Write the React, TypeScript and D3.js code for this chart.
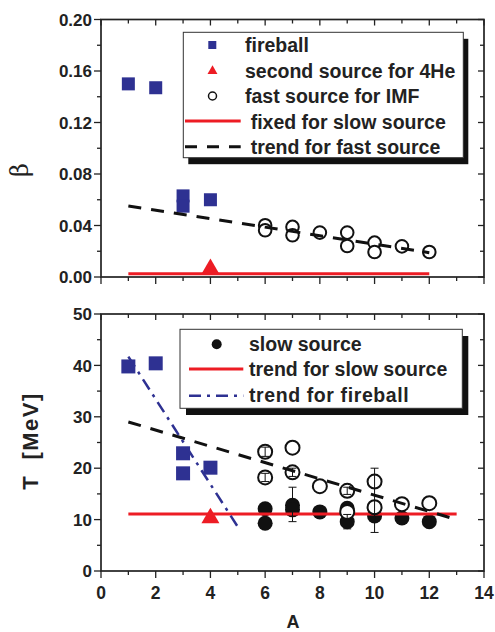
import React from "react";
import * as d3 from "d3";

// fireball (blue squares)
const fireballA = [1, 2, 3, 3, 4];
const fireballBeta = [0.150, 0.147, 0.063, 0.055, 0.060];
const fireballT = [39.8, 40.4, 22.9, 19.0, 20.1];

// second source for 4He (red triangle)
const heA = [4];
const heBeta = [0.0064];
const heT = [10.3];

// fast source for IMF (open circles)
const fastA = [6, 6, 7, 7, 8, 9, 9, 10, 10, 11, 12];
const fastBeta = [0.0402, 0.0363, 0.0389, 0.0324, 0.0345, 0.0345, 0.0241, 0.0267, 0.0194, 0.0238, 0.0194];
const fastT = [23.2, 18.2, 24.0, 19.2, 16.5, 15.6, 11.5, 17.4, 12.4, 13.0, 13.2];

// slow source (filled circles)
const slowA = [6, 6, 7, 7, 8, 9, 9, 10, 11, 12];
const slowT = [12.1, 9.3, 12.8, 11.9, 11.5, 12.2, 9.6, 10.7, 10.3, 9.6];

// error bars in T panel
const errA = [6, 6, 7, 7, 9, 9, 10];
const errLow = [22.3, 17.4, 18.4, 9.6, 14.9, 8.2, 7.5];
const errHigh = [24.1, 19.0, 20.0, 16.3, 16.3, 11.0, 20.0];

// trend lines
const slowBetaLineA = [1, 12];
const slowBetaLine = [0.0026, 0.0026];
const fastBetaLineA = [1, 12];
const fastBetaLine = [0.0552, 0.0189];
const slowTLineA = [1, 13];
const slowTLine = [11.1, 11.1];
const fastTLineA = [1, 13];
const fastTLine = [29.0, 10.0];
const fireTLineA = [1, 5];
const fireTLine = [41.7, 8.6];

const betaTicks = [0, 0.04, 0.08, 0.12, 0.16, 0.2];
const betaMinor = [0.02, 0.06, 0.1, 0.14, 0.18];
const tTicks = [0, 10, 20, 30, 40, 50];
const tMinor = [5, 15, 25, 35, 45];
const aTicks = [0, 2, 4, 6, 8, 10, 12, 14];
const aMinor = [1, 3, 5, 7, 9, 11, 13];

const FONT = "'Liberation Sans', Arial, Helvetica, sans-serif";
const BLUE = "#2e3192";
const RED = "#ed1c24";

const x = d3.scaleLinear().domain([0, 14]).range([101, 484]);
const yB = d3.scaleLinear().domain([0, 0.2]).range([277, 19.5]);
const yT = d3.scaleLinear().domain([0, 50]).range([571, 314]);

const line = (xs: number[], ys: number[], y: d3.ScaleLinear<number, number>) =>
  d3.line<number>().x((d) => x(d)).y((_, i) => y(ys[i]))(xs) as string;

const tri = (size: number) => d3.symbol().type(d3.symbolTriangle).size(size)() as string;

function Frame({ y, yTicks, yMinor, fmt, xLabels }: any) {
  const [y0, y1] = y.range();
  const x0 = x(0), x1 = x(14);
  return (
    <g>
      <rect x={x0} y={y1} width={x1 - x0} height={y0 - y1} fill="none" stroke="#222" strokeWidth={1.7} />
      {aTicks.map((t) => (
        <g key={"xa" + t}>
          <line x1={x(t)} x2={x(t)} y1={y0} y2={y0 + 7} stroke="#222" strokeWidth={1.3} />
          <line x1={x(t)} x2={x(t)} y1={y1} y2={y1 + 6} stroke="#222" strokeWidth={1.3} />
        </g>
      ))}
      {aMinor.map((t) => (
        <g key={"xm" + t}>
          <line x1={x(t)} x2={x(t)} y1={y0} y2={y0 + 4} stroke="#222" strokeWidth={1.3} />
          <line x1={x(t)} x2={x(t)} y1={y1} y2={y1 + 4} stroke="#222" strokeWidth={1.3} />
        </g>
      ))}
      {yTicks.map((t: number) => (
        <g key={"ya" + t}>
          <line x1={x0 - 7} x2={x0} y1={y(t)} y2={y(t)} stroke="#222" strokeWidth={1.3} />
          <line x1={x1 - 6} x2={x1} y1={y(t)} y2={y(t)} stroke="#222" strokeWidth={1.3} />
          <text x={x0 - 9} y={y(t)} dy="0.36em" textAnchor="end" fontFamily={FONT} fontWeight="bold" fontSize={17} fill="#222">
            {fmt(t)}
          </text>
        </g>
      ))}
      {yMinor.map((t: number) => (
        <g key={"ym" + t}>
          <line x1={x0 - 4} x2={x0} y1={y(t)} y2={y(t)} stroke="#222" strokeWidth={1.3} />
          <line x1={x1 - 4} x2={x1} y1={y(t)} y2={y(t)} stroke="#222" strokeWidth={1.3} />
        </g>
      ))}
      {xLabels &&
        aTicks.map((t) => (
          <text key={"xl" + t} x={x(t)} y={599} textAnchor="middle" fontFamily={FONT} fontWeight="bold" fontSize={17.5} fill="#222">
            {t}
          </text>
        ))}
    </g>
  );
}

export default function App() {
  const legendText = { fontFamily: FONT, fontWeight: "bold", fontSize: 19.5, fill: "#222" } as any;
  return (
    <svg width={495} height={632} style={{ position: "absolute", left: 0, top: 0, background: "#fff" }}>
      {/* ---------- top panel: beta ---------- */}
      {fireballA.map((a, i) => (
        <rect key={"fb" + i} x={x(a) - 6.5} y={yB(fireballBeta[i]) - 6.5} width={13} height={13} fill={BLUE} />
      ))}
      {fastA.map((a, i) => (
        <circle key={"fc" + i} cx={x(a)} cy={yB(fastBeta[i])} r={6.3} fill="#fff" stroke="#111" strokeWidth={2} />
      ))}
      <path d={line(fastBetaLineA, fastBetaLine, yB)} fill="none" stroke="#111" strokeWidth={3} strokeDasharray="13,10" />
      <path d={line(slowBetaLineA, slowBetaLine, yB)} fill="none" stroke={RED} strokeWidth={3} />
      {heA.map((a, i) => (
        <path key={"he" + i} d={tri(140)} transform={`translate(${x(a)},${yB(heBeta[i])})`} fill={RED} />
      ))}
      <Frame y={yB} yTicks={betaTicks} yMinor={betaMinor} fmt={(d: number) => d3.format(".2f")(d)} xLabels={false} />

      {/* top legend */}
      <rect x={188.3} y={38.8} width={280} height={125.4} fill="#111" />
      <rect x={183.3} y={32.3} width={280} height={125.4} fill="#fff" stroke="#333" strokeWidth={1} />
      <rect x={208.3} y={41} width={8} height={8} fill={BLUE} />
      <path d={tri(43)} transform="translate(212.5,71)" fill={RED} />
      <circle cx={212.5} cy={96} r={4} fill="#fff" stroke="#111" strokeWidth={1.5} />
      <line x1={185} x2={240.7} y1={121} y2={121} stroke={RED} strokeWidth={3} />
      <line x1={185} x2={240.7} y1={146.7} y2={146.7} stroke="#111" strokeWidth={3} strokeDasharray="12,10" />
      <text x={245} y={52} {...legendText}>fireball</text>
      <text x={245} y={77.5} {...legendText}>second source for 4He</text>
      <text x={245} y={103} {...legendText}>fast source for IMF</text>
      <text x={250.7} y={128.5} {...legendText}>fixed for slow source</text>
      <text x={250.7} y={153.5} {...legendText}>trend for fast source</text>

      {/* ---------- bottom panel: T ---------- */}
      {fireballA.map((a, i) => (
        <rect key={"tb" + i} x={x(a) - 7} y={yT(fireballT[i]) - 7} width={14} height={14} fill={BLUE} />
      ))}
      {slowA.map((a, i) => (
        <circle key={"sc" + i} cx={x(a)} cy={yT(slowT[i])} r={7.5} fill="#111" />
      ))}
      <path d={line(slowTLineA, slowTLine, yT)} fill="none" stroke={RED} strokeWidth={3} />
      {fastA.map((a, i) => (
        <circle key={"tc" + i} cx={x(a)} cy={yT(fastT[i])} r={7} fill="#fff" stroke="#111" strokeWidth={2} />
      ))}
      <path d={line(fastTLineA, fastTLine, yT)} fill="none" stroke="#111" strokeWidth={3} strokeDasharray="13,10" />
      <path d={line(fireTLineA, fireTLine, yT)} fill="none" stroke={BLUE} strokeWidth={2.5} strokeDasharray="12,6,3,6" />
      {errA.map((a, i) => (
        <g key={"eb" + i} stroke="#111" strokeWidth={1}>
          <line x1={x(a)} x2={x(a)} y1={yT(errLow[i])} y2={yT(errHigh[i])} />
          <line x1={x(a) - 4} x2={x(a) + 4} y1={yT(errLow[i])} y2={yT(errLow[i])} />
          <line x1={x(a) - 4} x2={x(a) + 4} y1={yT(errHigh[i])} y2={yT(errHigh[i])} />
        </g>
      ))}
      {heA.map((a, i) => (
        <path key={"het" + i} d={tri(140)} transform={`translate(${x(a)},${yT(heT[i])})`} fill={RED} />
      ))}
      <Frame y={yT} yTicks={tTicks} yMinor={tMinor} fmt={(d: number) => String(d)} xLabels={true} />

      {/* bottom legend */}
      <rect x={186} y={336} width={282.3} height={79} fill="#111" />
      <rect x={180} y={329.3} width={282.3} height={79} fill="#fff" stroke="#333" strokeWidth={1} />
      <circle cx={216.7} cy={344.3} r={5} fill="#111" />
      <line x1={189} x2={243.3} y1={369} y2={369} stroke={RED} strokeWidth={3} />
      <line x1={189} x2={243.3} y1={395.7} y2={395.7} stroke={BLUE} strokeWidth={2.5} strokeDasharray="12,6,3,6" />
      <text x={249} y={351} {...legendText}>slow source</text>
      <text x={249} y={375.5} {...legendText}>trend for slow source</text>
      <text x={249} y={402} {...legendText} letterSpacing={0.6}>trend for fireball</text>

      {/* axis titles */}
      <text x={293} y={628} textAnchor="middle" fontFamily={FONT} fontWeight="bold" fontSize={18} fill="#222">A</text>
      <text transform="translate(28,170) rotate(-90)" textAnchor="middle" fontFamily="'DejaVu Serif', 'Liberation Serif', serif" fontSize={24} fill="#222">β</text>
      <text transform="translate(38,441) rotate(-90)" textAnchor="middle" fontFamily={FONT} fontWeight="bold" fontSize={22} letterSpacing={1.5} fill="#222" style={{ whiteSpace: "pre" }}>T  [MeV]</text>
    </svg>
  );
}
